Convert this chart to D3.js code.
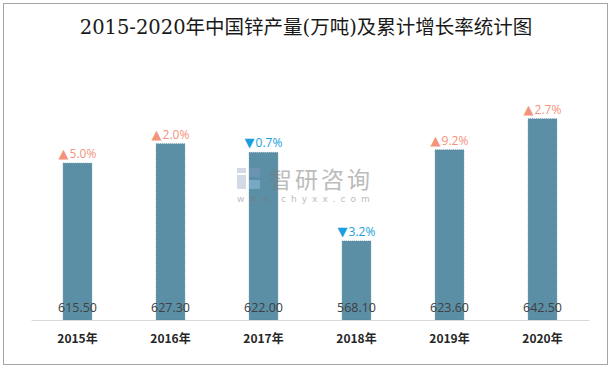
<!DOCTYPE html>
<html>
<head>
<meta charset="utf-8">
<script src="https://cdn.jsdelivr.net/npm/d3@7"></script>
<style>
  body { margin: 0; background: #fff; }
  svg { display: block; }
</style>
</head>
<body>
<div id="chart"></div>
<script>
var years = ['2015年', '2016年', '2017年', '2018年', '2019年', '2020年'];
var output = [615.5, 627.3, 622.0, 568.1, 623.6, 642.5];
var growth = [5.0, 2.0, -0.7, -3.2, 9.2, 2.7];

var width = 614;
var height = 370;
var svg = d3.select('#chart').append('svg')
  .attr('width', width)
  .attr('height', height);

// outer frame
svg.append('rect')
  .attr('x', 3.5).attr('y', 3.5)
  .attr('width', 604).attr('height', 361)
  .attr('fill', '#fff')
  .attr('stroke', '#a6a6a6');

svg.append('text')
  .attr('x', 306).attr('y', 34)
  .attr('text-anchor', 'middle')
  .attr('font-family', '"DejaVu Serif", "Noto Sans CJK SC", serif')
  .attr('font-size', 19.5)
  .attr('fill', '#1a1a1a')
  .text('2015-2020年中国锌产量(万吨)及累计增长率统计图');

var x = d3.scaleBand().domain(years).range([31, 589]).paddingInner(0.69).paddingOuter(0.345);
var y = d3.scaleLinear().domain([520, 660]).range([320, 90]);

// bars
svg.append('g').selectAll('rect')
  .data(output)
  .join('rect')
  .attr('x', function(d, i) { return x(years[i]); })
  .attr('y', function(d) { return y(d); })
  .attr('width', x.bandwidth())
  .attr('height', function(d) { return y(520) - y(d); })
  .attr('fill', '#5b8fa6')
  .attr('stroke', '#4d7d92')
  .attr('stroke-width', 0.6)
  .attr('stroke-dasharray', '1,1');

// watermark, drawn over the bars
var wm = svg.append('g').attr('opacity', 0.5);
wm.append('rect').attr('x', 237).attr('y', 168).attr('width', 9).attr('height', 5).attr('fill', '#a9b6cf');
wm.append('rect').attr('x', 237).attr('y', 175).attr('width', 9).attr('height', 14).attr('fill', '#a9b6cf');
wm.append('rect').attr('x', 249).attr('y', 168).attr('width', 11).attr('height', 9).attr('fill', '#7f97c0');
wm.append('rect').attr('x', 249).attr('y', 180).attr('width', 11).attr('height', 9).attr('fill', '#93c2e6');
wm.append('text')
  .attr('x', 269).attr('y', 188)
  .attr('font-family', '"Noto Sans CJK SC", sans-serif')
  .attr('font-size', 23)
  .attr('letter-spacing', 3)
  .attr('fill', '#7a7a7a')
  .text('智研咨询');
wm.append('text')
  .attr('x', 237).attr('y', 202)
  .attr('font-family', '"DejaVu Sans", sans-serif')
  .attr('font-size', 9)
  .attr('letter-spacing', 5)
  .attr('fill', '#7a7a7a')
  .text('www.chyxx.com');

// axis
var axis = svg.append('g')
  .attr('transform', 'translate(0,' + y(520) + ')')
  .call(d3.axisBottom(x).tickSize(0).tickPadding(14));
axis.select('.domain').attr('stroke', '#d9d9d9');
axis.selectAll('text')
  .attr('font-family', '"Noto Sans CJK SC", sans-serif')
  .attr('font-size', 12)
  .attr('font-weight', 'bold')
  .attr('fill', '#262626');

// value labels
svg.append('g').selectAll('text')
  .data(output)
  .join('text')
  .attr('x', function(d, i) { return x(years[i]) + x.bandwidth() / 2; })
  .attr('y', 312)
  .attr('text-anchor', 'middle')
  .attr('font-family', '"Open Sans", "DejaVu Sans", sans-serif')
  .attr('font-size', 12.5)
  .attr('fill', '#404040')
  .text(function(d) { return d.toFixed(2); });

// growth labels
var gl = svg.append('g').selectAll('text')
  .data(growth)
  .join('text')
  .attr('x', function(d, i) { return x(years[i]) + x.bandwidth() / 2; })
  .attr('y', function(d, i) { return y(output[i]) - 5; })
  .attr('text-anchor', 'middle')
  .attr('font-family', '"Open Sans", "DejaVu Sans", sans-serif')
  .attr('font-size', 12)
  .attr('fill', function(d) { return d >= 0 ? '#f4937c' : '#1a9fdc'; });
gl.append('tspan')
  .attr('font-size', 13)
  .text(function(d) { return d >= 0 ? '▲' : '▼'; });
gl.append('tspan')
  .attr('dx', 1)
  .text(function(d) { return Math.abs(d).toFixed(1) + '%'; });
</script>
</body>
</html>
